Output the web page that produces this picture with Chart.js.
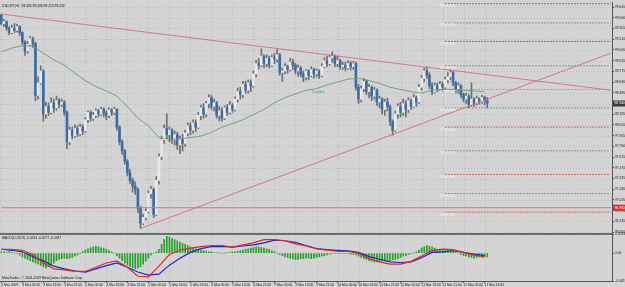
<!DOCTYPE html>
<html>
<head>
<meta charset="utf-8">
<title>USDJPY H1</title>
<script src="https://cdn.jsdelivr.net/npm/chart.js@4.4.1/dist/chart.umd.min.js"></script>
<style>
    html, body { margin: 0; padding: 0; background: #d4d4d4; overflow: hidden; }
    #wrap { width: 625px; height: 287px; position: relative; }
</style>
</head>
<body>
<div id="wrap"><canvas id="chart"></canvas></div>
<script>
// ============================================
// USDJPY H1 — candles, trend lines, pivots, MACD pane
// ============================================

const timeLabels = ['2 Mar 2009', '3 Mar 05:00', '3 Mar 13:00', '3 Mar 21:00', '4 Mar 05:00', '4 Mar 13:00',
    '4 Mar 21:00', '5 Mar 05:00', '5 Mar 13:00', '5 Mar 21:00', '6 Mar 05:00', '6 Mar 13:00',
    '6 Mar 21:00', '9 Mar 05:00', '9 Mar 13:00', '9 Mar 21:00', '10 Mar 05:00', '10 Mar 13:00',
    '10 Mar 21:00', '11 Mar 05:00', '11 Mar 13:00', '11 Mar 21:00', '12 Mar 05:00', '12 Mar 13:00'];

const priceTicks = [99.645, 99.500, 99.355, 99.210, 99.065, 98.920, 98.775, 98.630, 98.485, 98.340, 98.195,
    98.050, 97.905, 97.760, 97.615, 97.470, 97.325, 97.180, 97.035, 96.890, 96.745, 96.600];
const macdTicks = [0.3033, 0, -0.4497];

const firstOpen = 99.54;
const closes = [
    99.42, 99.45, 99.36, 99.30, 99.36, 99.33, 99.38, 99.30, 99.17, 99.05,
    99.14, 99.22, 99.15, 98.45, 98.62, 98.78, 98.20, 98.30, 98.22, 98.35,
    98.28, 98.38, 98.33, 98.36, 98.22, 97.82, 97.98, 97.90, 98.00, 97.93,
    98.02, 97.97, 98.12, 98.22, 98.14, 98.18, 98.24, 98.20, 98.26, 98.21,
    98.18, 98.25, 98.22, 98.26, 98.02, 97.82, 97.70, 97.56, 97.40, 97.30,
    97.22, 97.18, 96.92, 96.72, 96.80, 96.88, 97.12, 97.18, 96.84, 97.30,
    97.62, 97.85, 98.00, 97.92, 97.98, 97.85, 97.92, 97.78, 97.86, 97.80,
    97.94, 98.04, 97.98, 98.08, 98.02, 98.18, 98.28, 98.20, 98.34, 98.42,
    98.30, 98.35, 98.18, 98.24, 98.14, 98.28, 98.22, 98.32, 98.26, 98.40,
    98.50, 98.46, 98.60, 98.52, 98.62, 98.58, 98.74, 98.88, 98.86, 98.98,
    98.88, 98.95, 98.86, 98.96, 98.94, 99.00, 98.76, 98.78, 98.84, 98.80,
    98.90, 98.86, 98.78, 98.82, 98.74, 98.70, 98.78, 98.72, 98.80, 98.74,
    98.78, 98.72, 98.84, 98.92, 98.88, 98.96, 98.98, 98.88, 98.92, 98.84,
    98.86, 98.82, 98.88, 98.84, 98.88, 98.56, 98.40, 98.54, 98.64, 98.50,
    98.56, 98.44, 98.52, 98.36, 98.40, 98.26, 98.36, 98.30, 98.10, 97.98,
    98.20, 98.30, 98.22, 98.34, 98.26, 98.38, 98.30, 98.42, 98.36, 98.56,
    98.68, 98.78, 98.72, 98.58, 98.50, 98.58, 98.54, 98.60, 98.56, 98.66,
    98.70, 98.76, 98.62, 98.54, 98.58, 98.46, 98.40, 98.44, 98.32, 98.40,
    98.34, 98.40, 98.36, 98.42, 98.38, 98.34];
const highs = [
    99.55, 99.48, 99.46, 99.38, 99.40, 99.42, 99.41, 99.39, 99.31, 99.19,
    99.18, 99.25, 99.24, 99.17, 98.70, 98.85, 98.80, 98.36, 98.35, 98.42,
    98.40, 98.44, 98.41, 98.40, 98.38, 98.24, 98.02, 98.02, 98.05, 98.04,
    98.06, 98.05, 98.15, 98.24, 98.24, 98.22, 98.27, 98.26, 98.29, 98.28,
    98.24, 98.28, 98.27, 98.29, 98.27, 98.04, 97.85, 97.72, 97.58, 97.45,
    97.33, 97.28, 97.20, 96.95, 96.84, 96.92, 97.16, 97.22, 97.20, 97.35,
    97.66, 97.90, 98.05, 98.20, 98.02, 98.00, 97.97, 97.95, 97.90, 97.92,
    97.98, 98.08, 98.08, 98.12, 98.12, 98.22, 98.32, 98.34, 98.37, 98.46,
    98.45, 98.40, 98.37, 98.30, 98.28, 98.31, 98.33, 98.37, 98.34, 98.43,
    98.55, 98.56, 98.64, 98.64, 98.66, 98.66, 98.78, 98.92, 98.95, 99.08,
    99.00, 99.00, 98.98, 99.00, 99.02, 99.08, 99.02, 98.82, 98.88, 98.86,
    98.95, 98.94, 98.88, 98.86, 98.84, 98.78, 98.80, 98.80, 98.84, 98.82,
    98.81, 98.80, 98.88, 98.96, 98.98, 99.00, 99.04, 99.00, 98.98, 98.94,
    98.90, 98.90, 98.92, 98.91, 98.91, 98.90, 98.60, 98.58, 98.68, 98.66,
    98.60, 98.58, 98.56, 98.54, 98.44, 98.42, 98.40, 98.41, 98.32, 98.12,
    98.24, 98.34, 98.36, 98.40, 98.38, 98.42, 98.40, 98.46, 98.44, 98.60,
    98.72, 98.82, 98.84, 98.76, 98.62, 98.62, 98.62, 98.64, 98.63, 98.70,
    98.76, 98.80, 98.78, 98.64, 98.62, 98.60, 98.48, 98.48, 98.46, 98.62,
    98.42, 98.44, 98.42, 98.45, 98.44, 98.42];
const lows = [
    99.40, 99.38, 99.33, 99.27, 99.28, 99.30, 99.31, 99.26, 99.14, 98.99,
    99.02, 99.12, 99.10, 98.38, 98.40, 98.60, 98.10, 98.14, 98.18, 98.20,
    98.22, 98.25, 98.28, 98.30, 98.18, 97.73, 97.78, 97.86, 97.88, 97.89,
    97.90, 97.92, 97.95, 98.08, 98.10, 98.11, 98.15, 98.16, 98.18, 98.16,
    98.12, 98.15, 98.18, 98.19, 97.98, 97.78, 97.65, 97.52, 97.36, 97.26,
    97.14, 97.11, 96.86, 96.65, 96.70, 96.76, 96.86, 97.06, 96.80, 96.82,
    97.25, 97.58, 97.80, 97.86, 97.82, 97.80, 97.78, 97.72, 97.66, 97.70,
    97.76, 97.90, 97.92, 97.94, 97.96, 98.00, 98.12, 98.14, 98.16, 98.28,
    98.26, 98.24, 98.14, 98.10, 98.10, 98.12, 98.18, 98.20, 98.22, 98.24,
    98.36, 98.40, 98.42, 98.48, 98.48, 98.50, 98.56, 98.70, 98.80, 98.84,
    98.82, 98.84, 98.82, 98.84, 98.88, 98.90, 98.72, 98.64, 98.74, 98.75,
    98.78, 98.80, 98.74, 98.71, 98.70, 98.64, 98.66, 98.66, 98.70, 98.68,
    98.70, 98.68, 98.70, 98.82, 98.84, 98.86, 98.90, 98.84, 98.84, 98.80,
    98.80, 98.78, 98.80, 98.79, 98.80, 98.52, 98.34, 98.36, 98.50, 98.46,
    98.42, 98.38, 98.40, 98.31, 98.28, 98.20, 98.18, 98.24, 98.04, 97.91,
    97.96, 98.14, 98.16, 98.18, 98.16, 98.22, 98.26, 98.28, 98.30, 98.34,
    98.52, 98.64, 98.68, 98.54, 98.46, 98.48, 98.50, 98.52, 98.50, 98.54,
    98.62, 98.66, 98.58, 98.48, 98.48, 98.42, 98.36, 98.34, 98.28, 98.30,
    98.30, 98.32, 98.33, 98.34, 98.32, 98.28];

// moving average, read every 4th bar
const maValues = [99.04, 99.09, 99.12, 99.12, 99.02, 98.93, 98.86, 98.75, 98.65, 98.57,
    98.51, 98.44, 98.30, 98.14, 98.04, 97.88, 97.86, 97.86, 97.88, 97.90,
    97.95, 98.02, 98.07, 98.12, 98.19, 98.26, 98.35, 98.42, 98.47, 98.52,
    98.54, 98.59, 98.63, 98.67, 98.68, 98.65, 98.61, 98.56, 98.53, 98.50,
    98.48, 98.52, 98.53, 98.53, 98.52, 98.51, 98.50];

// MACD lines, read every 4th bar
const macdMain = [0.063, 0.063, 0.046, -0.022, -0.159, -0.253, -0.270, -0.296, -0.296, -0.228,
    -0.159, -0.125, -0.228, -0.373, -0.382, -0.211, -0.022, 0.046, 0.080, 0.106,
    0.123, 0.123, 0.098, 0.132, 0.166, 0.217, 0.217, 0.200, 0.149, 0.115,
    0.072, 0.046, 0.029, 0.029, -0.005, -0.091, -0.142, -0.176, -0.176, -0.133,
    -0.048, 0.046, 0.063, 0.055, 0.012, -0.031, -0.056];
const macdSignal = [0.063, 0.046, 0.021, -0.056, -0.125, -0.211, -0.253, -0.288, -0.305, -0.253,
    -0.202, -0.159, -0.228, -0.305, -0.356, -0.339, -0.194, -0.082, 0.012, 0.072,
    0.106, 0.110, 0.098, 0.115, 0.132, 0.166, 0.209, 0.200, 0.175, 0.123,
    0.072, 0.055, 0.046, 0.038, 0.012, -0.056, -0.099, -0.142, -0.151, -0.142,
    -0.074, 0.012, 0.021, 0.038, 0.012, -0.014, -0.039];
const macdHist = [
    0.02, 0.02, 0.01, 0.02, 0.01, 0.00, -0.01,
    -0.03, -0.06, -0.08, -0.10, -0.12, -0.14, -0.16, -0.18, -0.20, -0.22, -0.24,
    -0.22, -0.20, -0.16, -0.12, -0.10, -0.09, -0.08, -0.09, -0.08, -0.07, -0.05, -0.03, -0.01,
    0.02, 0.05, 0.07, 0.09, 0.10, 0.11, 0.10, 0.09, 0.08, 0.06, 0.04, 0.02, 0.00,
    -0.04, -0.08, -0.12, -0.16, -0.19, -0.22, -0.24, -0.25, -0.24, -0.22, -0.18, -0.13, -0.08, -0.03,
    0.00, 0.02, 0.06,
    0.14, 0.22, 0.27, 0.26, 0.24, 0.22, 0.20, 0.18,
    0.16, 0.14, 0.12, 0.10, 0.08, 0.07, 0.06, 0.05,
    0.04, 0.03, 0.02, 0.02, 0.01, 0.01, 0.00, -0.01, 0.00, 0.01, 0.01, 0.02, 0.02, 0.03, 0.04,
    0.05, 0.06, 0.07, 0.08, 0.09, 0.10, 0.10, 0.09, 0.08, 0.07, 0.06, 0.04, 0.02,
    0.00, -0.02, -0.04, -0.06, -0.07, -0.08, -0.09, -0.10, -0.10, -0.09, -0.09, -0.08, -0.08, -0.09, -0.08, -0.07, -0.06, -0.05, -0.04, -0.03,
    -0.02, -0.01, -0.01, -0.01, -0.01, -0.01, -0.01, -0.01, -0.02, -0.02, -0.03, -0.05, -0.07,
    -0.09, -0.10, -0.12, -0.13, -0.14, -0.14, -0.14, -0.13, -0.13, -0.12, -0.12, -0.11, -0.10, -0.09, -0.07,
    -0.05, -0.04, -0.02, -0.01, 0.00, 0.02, 0.05,
    0.08, 0.10, 0.12, 0.11, 0.10, 0.08, 0.06, 0.05,
    0.04, 0.04, 0.05, 0.04, 0.03, 0.02, 0.00, -0.02,
    -0.04, -0.05, -0.06, -0.07, -0.08, -0.07, -0.06, -0.07, -0.06, -0.06];

// trend lines as [bar, price]
const trendDown = [[0, 99.55], [232, 98.52]];
const trendUp = [[53, 96.65], [232, 99.02]];
const supportLevel = 96.93;

const pivotNames = ['R2', 'M4', 'R1', 'M3', 'PP', 'M2', 'S1', 'M1', 'S2', 'M0', 'S3'];
const pivotValues = [99.69, 99.43, 99.18, 98.85, 98.53, 98.28, 98.02, 97.70, 97.38, 97.12, 96.87];
const pivotStartBar = 169;

// ---- build ----
const TOTAL_SLOTS = 233;
const LABEL_EVERY = 8;
const SAMPLE_EVERY = 4;
const FONT = 'Liberation Sans';

const opens = closes.map((c, i) => i === 0 ? firstOpen : closes[i - 1]);
const slotLabels = Array.from({ length: TOTAL_SLOTS }, (_, i) =>
    (i % LABEL_EVERY === 0 && i / LABEL_EVERY < timeLabels.length) ? timeLabels[i / LABEL_EVERY] : '');

function sparse(points) {
    const arr = new Array(TOTAL_SLOTS).fill(null);
    points.forEach(([i, v]) => { arr[i] = v; });
    return arr;
}
const sampled = vals => sparse(vals.map((v, k) => [k * SAMPLE_EVERY, v]));

function pivotColor(name) {
    if (name === 'PP') return '#d070d0';
    if (name[0] === 'R') return '#4a4ac0';
    if (name[0] === 'S') return '#cc4c4c';
    return '#5e8c5e';
}

const lineBase = { type: 'line', pointRadius: 0, borderWidth: 1, spanGaps: true, tension: 0, xAxisID: 'x' };

const datasets = [
    { ...lineBase, yAxisID: 'y', order: 0, data: sparse(trendDown), borderColor: '#d47884' },
    { ...lineBase, yAxisID: 'y', order: 0, data: sparse(trendUp), borderColor: '#d47884' },
    { ...lineBase, yAxisID: 'y', order: 0, data: sparse([[0, supportLevel], [TOTAL_SLOTS - 1, supportLevel]]), borderColor: '#de6e74' },
    ...pivotNames.map((n, k) => ({
        ...lineBase, yAxisID: 'y', order: 1,
        data: sparse([[pivotStartBar, pivotValues[k]], [TOTAL_SLOTS - 1, pivotValues[k]]]),
        borderColor: pivotColor(n), borderDash: [1.5, 1.5]
    })),
    { ...lineBase, yAxisID: 'y', order: 2, data: sampled(maValues), borderColor: '#6c9f64', borderWidth: 0.9 },
    {
        type: 'bar', yAxisID: 'y', order: 3, grouped: false, barThickness: 2,
        data: opens.map((o, i) => [o, closes[i]]),
        backgroundColor: opens.map((o, i) => closes[i] >= o ? '#e9e9e9' : '#3a6ca6')
    },
    {
        type: 'bar', yAxisID: 'y', order: 4, grouped: false, barThickness: 1,
        data: lows.map((l, i) => [l, highs[i]]), backgroundColor: '#707070'
    },
    { ...lineBase, yAxisID: 'yM', order: 0, data: sampled(macdMain), borderColor: '#e02828', borderWidth: 1.2 },
    { ...lineBase, yAxisID: 'yM', order: 0, data: sampled(macdSignal), borderColor: '#1c28cc', borderWidth: 1.2 },
    {
        type: 'bar', yAxisID: 'yM', order: 4, grouped: false, barThickness: 1,
        data: macdHist, backgroundColor: '#26a22a'
    },
];

const axisFont = { family: FONT, size: 3.3 };

const overlay = {
    id: 'overlay',
    beforeDraw(chart) {
        const { ctx, width, height } = chart;
        ctx.save();
        ctx.fillStyle = '#d4d4d4';
        ctx.fillRect(0, 0, width, height);
        ctx.restore();
    },
    beforeDatasetsDraw(chart) {
        const { ctx, chartArea: a, scales: { x, y, yM } } = chart;
        ctx.save();
        ctx.strokeStyle = '#b8bcc6';
        ctx.lineWidth = 1;
        ctx.setLineDash([1, 2]);
        ctx.beginPath();
        priceTicks.forEach(v => {
            const py = Math.round(y.getPixelForValue(v)) + 0.5;
            ctx.moveTo(a.left, py); ctx.lineTo(a.right, py);
        });
        x.ticks.forEach(t => {
            const px = Math.round(x.getPixelForValue(t.value)) + 0.5;
            ctx.moveTo(px, y.top); ctx.lineTo(px, y.bottom);
            ctx.moveTo(px, yM.top); ctx.lineTo(px, yM.bottom);
        });
        ctx.stroke();

        // vertical marker where the pivot levels start
        const vx = Math.round(x.getPixelForValue(pivotStartBar)) + 0.5;
        const lowest = Math.min(...pivotValues);
        ctx.strokeStyle = '#eeeeee';
        ctx.beginPath();
        ctx.moveTo(vx, y.top);
        ctx.lineTo(vx, y.getPixelForValue(lowest) + 12);
        ctx.stroke();
        ctx.restore();
    },
    afterDraw(chart) {
        const { ctx, chartArea: a, scales: { x, y, yM } } = chart;
        ctx.save();
        ctx.font = `3.3px "${FONT}"`;
        ctx.textBaseline = 'middle';

        // pivot labels
        const lx = x.getPixelForValue(pivotStartBar) - 5;
        ctx.fillStyle = '#f6f6f6';
        pivotNames.forEach((n, k) => {
            ctx.fillText(`${n} ${pivotValues[k].toFixed(3)}`, lx, y.getPixelForValue(pivotValues[k]) + 2.5);
        });

        // small object label near the MA
        ctx.fillStyle = '#3a9aa0';
        ctx.fillText('Trendline', x.getPixelForValue(118), y.getPixelForValue(98.50));

        // pane separator
        ctx.fillStyle = '#687070';
        ctx.fillRect(0, Math.round(y.bottom) - 1, a.right, 2);

        // header texts
        ctx.fillStyle = '#111';
        ctx.fillText('USDJPY,H1  98.406 98.436 98.213 98.234', 2, a.top + 3);
        ctx.fillText('MACD(12,26,9) -0.0234 -0.0277 -0.0447', 2, yM.top + 4);
        ctx.fillText('MetaTrader - \u00a9 2001-2009 MetaQuotes Software Corp.', 2, yM.bottom - 3);

        // price boxes on the right axis
        const box = (value, bg) => {
            const py = y.getPixelForValue(value);
            ctx.fillStyle = bg;
            ctx.fillRect(a.right + 1, py - 3, 13, 6);
            ctx.fillStyle = '#ffffff';
            ctx.fillText(value.toFixed(3), a.right + 2.5, py);
        };
        box(closes[closes.length - 1], '#3c3c3c');
        box(supportLevel, '#e02e2e');
        ctx.restore();
    }
};

new Chart(document.getElementById('chart'), {
    type: 'bar',
    data: { labels: slotLabels, datasets },
    options: {
        responsive: true, maintainAspectRatio: false, animation: false,
        layout: { padding: { top: 1, left: 0, right: 0, bottom: 0 } },
        plugins: { legend: { display: false }, tooltip: { enabled: false } },
        scales: {
            x: {
                type: 'category', position: 'bottom', offset: true,
                grid: { drawOnChartArea: false, offset: false, tickLength: 2, color: '#444' },
                border: { color: '#555' },
                ticks: {
                    autoSkip: false, maxRotation: 0, minRotation: 0, align: 'start', padding: 0,
                    font: axisFont, color: '#1a1a1a'
                },
                afterBuildTicks: s => {
                    s.ticks = s.ticks.filter(t => t.value % LABEL_EVERY === 0 && t.value / LABEL_EVERY < timeLabels.length);
                },
                afterFit: s => { s.height = 6; }
            },
            y: {
                type: 'linear', position: 'right', stack: 'panes', stackWeight: 233,
                min: 96.57, max: 99.70,
                grid: { drawOnChartArea: false, tickLength: 2, color: '#444' },
                border: { color: '#555' },
                ticks: { autoSkip: false, padding: 1, font: axisFont, color: '#1a1a1a', callback: v => v.toFixed(3) },
                afterBuildTicks: s => { s.ticks = priceTicks.map(v => ({ value: v })); },
                afterFit: s => { s.width = 13; }
            },
            yM: {
                type: 'linear', position: 'right', stack: 'panes', stackWeight: 47,
                min: -0.4497, max: 0.3033,
                grid: { drawOnChartArea: false, tickLength: 2, color: '#444' },
                border: { color: '#555' },
                ticks: { autoSkip: false, padding: 1, font: axisFont, color: '#1a1a1a', callback: v => v === 0 ? '0.00' : v.toFixed(4) },
                afterBuildTicks: s => { s.ticks = macdTicks.map(v => ({ value: v })); },
                afterFit: s => { s.width = 13; }
            }
        }
    },
    plugins: [overlay]
});
</script>
</body>
</html>
